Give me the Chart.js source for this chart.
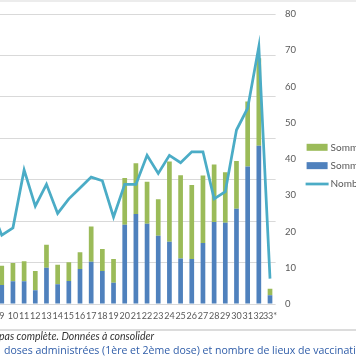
<!DOCTYPE html>
<html><head><meta charset="utf-8">
<script src="https://cdn.jsdelivr.net/npm/chart.js@4.4.1/dist/chart.umd.min.js"></script>
<style>
html,body{margin:0;padding:0;background:#fff;width:356px;height:364px;overflow:hidden;position:relative;}
#topline{position:absolute;left:0;top:0;width:356px;height:2px;background:#ececec;}
#wrap{position:absolute;left:-40px;top:0;width:440px;height:331px;}
#sep{position:absolute;left:0;top:329px;width:356px;height:2px;background:#dcdcdc;}
#note{position:absolute;left:-1px;top:330px;font:italic 10.5px Lato;line-height:12px;color:#333;white-space:nowrap;}
#title{position:absolute;left:4px;top:343px;font:10.55px "Open Sans";line-height:15px;color:#2e5ca8;white-space:nowrap;}
</style></head>
<body>
<div id="topline"></div>
<div id="wrap"><canvas id="c" width="440" height="331"></canvas></div>
<div id="sep"></div>
<div id="note">pas complète. Données à consolider</div>
<div id="title">doses administrées (1ère et 2ème dose) et nombre de lieux de vaccination</div>
<script>
const categories = ['8','9','10','11','12','13','14','15','16','17','18','19','20','21','22','23','24','25','26','27','28','29','30','31','32','33*'];
const premiereDose = [null,459,548,548,330,877,476,556,845,1020,797,515,1910,2170,1940,1650,1500,1100,1087,1470,1980,1960,2300,3320,3820,210];
const deuxiemeDose = [null,466,442,482,467,553,474,451,405,850,533,572,1130,1230,1010,880,1940,2010,1783,1630,1390,1220,1150,1570,2110,160];
const lieux = [27,19,21,37,27,33,25,29,32,35,34,24,33,33,41,36,41,39,42,42,29,31,48,54,71,7];
const leftAxis = {min:0, max:7000, step:1000};
const rightAxis = {min:0, max:80, step:10};

const sideLegend = {
  id:'sideLegend',
  afterDraw(chart){
    const c = chart.ctx, a = chart.chartArea;
    const ds = chart.data.datasets;
    const items = [ds[2], ds[1], ds[0]];
    const x0 = a.right + 31;
    c.save();
    items.forEach((d,i)=>{
      const y = a.top + 133.3 + i*18.35;
      if (d.type === 'line') {
        c.strokeStyle = d.borderColor; c.lineWidth = 2.75;
        c.beginPath(); c.moveTo(x0-1, y); c.lineTo(x0+22, y); c.stroke();
      } else {
        c.fillStyle = d.backgroundColor; c.fillRect(x0, y-3.5, 21, 7);
      }
      c.fillStyle = '#595959'; c.font = '10px Lato'; c.textBaseline = 'middle'; c.textAlign='left';
      c.fillText(d.label, x0+24, y);
    });
    c.restore();
  }
};

new Chart(document.getElementById('c'), {
  type:'bar',
  data:{
    labels:categories,
    datasets:[
      {type:'line', label:'Nombre de lieux de vaccination', data:lieux, yAxisID:'y1', borderColor:'#4bacc6', borderWidth:2.75, pointRadius:0, tension:0, fill:false, order:0},
      {label:'Somme de 1ère dose', data:premiereDose, backgroundColor:'#4f81bd', yAxisID:'y', stack:'d', order:1},
      {label:'Somme de 2ème dose', data:deuxiemeDose, backgroundColor:'#9bbb59', yAxisID:'y', stack:'d', order:2}
    ]
  },
  options:{
    responsive:false, animation:false,
    layout:{padding:{left:25, right:84.4, top:14, bottom:3}},
    datasets:{bar:{categoryPercentage:1, barPercentage:0.42}},
    plugins:{legend:{display:false}, tooltip:{enabled:false}},
    scales:{
      x:{stacked:true, offset:true, grid:{display:false, drawTicks:false}, border:{display:false},
         ticks:{autoSkip:false, maxRotation:0, minRotation:0, padding:6.6, color:'#595959', font:{family:'Lato', size:9}}},
      y:{stacked:true, position:'left', min:leftAxis.min, max:leftAxis.max,
         ticks:{stepSize:leftAxis.step, display:false}, grid:{color:'#d9d9d9', drawTicks:false}, border:{display:false}},
      y1:{position:'right', min:rightAxis.min, max:rightAxis.max,
          ticks:{stepSize:rightAxis.step, padding:9.5, color:'#595959', font:{family:'Lato', size:9.5}},
          grid:{display:false, drawTicks:false}, border:{display:false},
          afterFit(s){ s.width = 40; s.paddingTop = 0; s.paddingBottom = 0; }}
    }
  },
  plugins:[sideLegend]
});
</script>
</body></html>
